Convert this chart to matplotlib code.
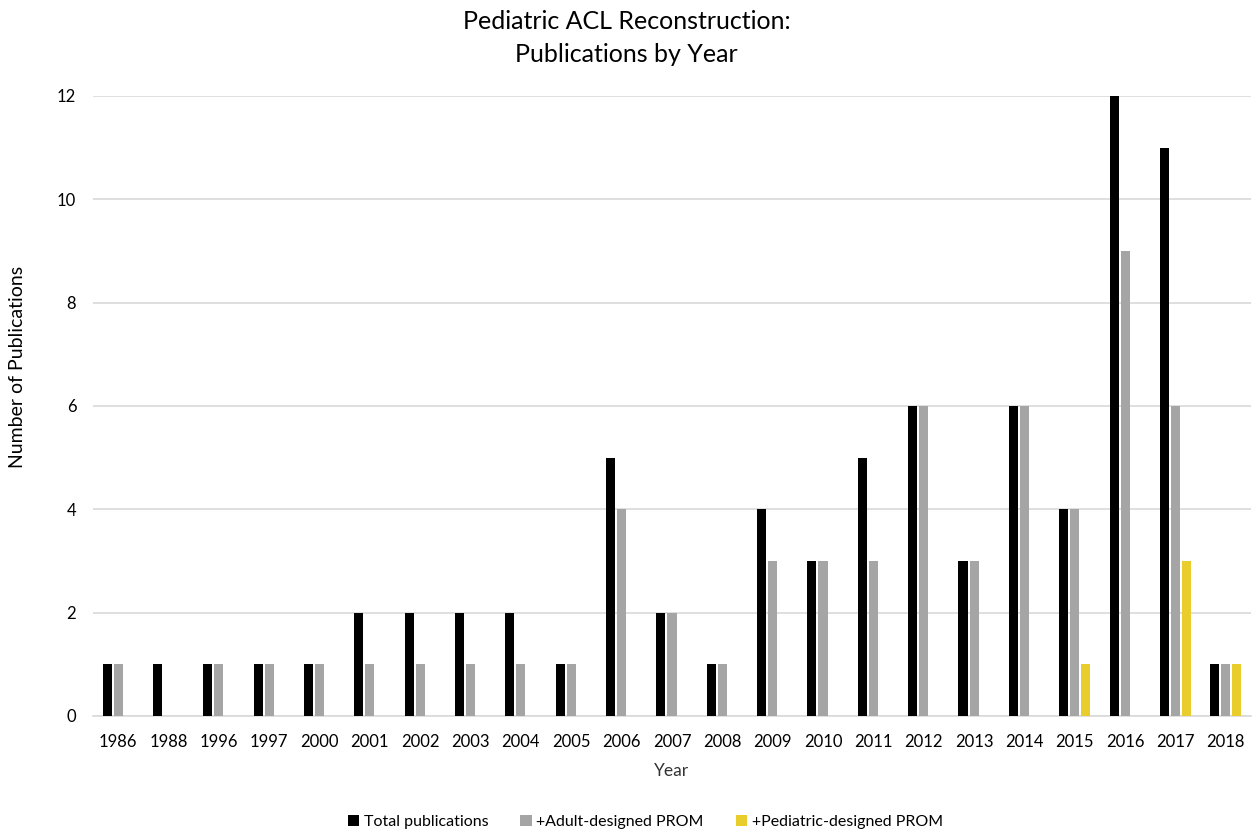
import matplotlib
matplotlib.use("Agg")
import matplotlib.pyplot as plt
import numpy as np

years = ["1986", "1988", "1996", "1997", "2000", "2001", "2002", "2003", "2004", "2005",
         "2006", "2007", "2008", "2009", "2010", "2011", "2012", "2013", "2014", "2015",
         "2016", "2017", "2018"]
total = [1, 1, 1, 1, 1, 2, 2, 2, 2, 1, 5, 2, 1, 4, 3, 5, 6, 3, 6, 4, 12, 11, 1]
adult = [1, 0, 1, 1, 1, 1, 1, 1, 1, 1, 4, 2, 1, 3, 3, 3, 6, 3, 6, 4, 9, 6, 1]
pediatric = [0, 0, 0, 0, 0, 0, 0, 0, 0, 0, 0, 0, 0, 0, 0, 0, 0, 0, 0, 1, 0, 3, 1]

plt.rcParams['font.family'] = ['Lato', 'DejaVu Sans']

fig = plt.figure(figsize=(12.53, 8.34), dpi=100)
ax = fig.add_axes([0.0742, 0.1415, 0.9242, 0.7435])

x = np.arange(len(years))
w = 0.18
off = 0.22
ax.bar(x - off, total, width=w, color="#000000", label="Total publications", zorder=3)
ax.bar(x, adult, width=w, color="#a5a5a5", label="+Adult-designed PROM", zorder=3)
ax.bar(x + off, pediatric, width=w, color="#e8cd2c", label="+Pediatric-designed PROM", zorder=3)

ax.set_xlim(-0.5, len(years) - 0.5)
ax.set_ylim(0, 12)
ax.set_yticks(range(0, 13, 2))
ax.set_xticks(x)
ax.set_xticklabels(years)
ax.grid(axis="y", color="#d9d9d9", linewidth=1.2, zorder=0)
for s in ["top", "right", "left"]:
    ax.spines[s].set_visible(False)
ax.spines["bottom"].set_color("#d9d9d9")
ax.spines["bottom"].set_linewidth(1.2)
ax.tick_params(axis="both", length=0, labelsize=12, colors="#000000")
ax.tick_params(axis="x", pad=13)
ax.tick_params(axis="y", pad=12)

ax.set_xlabel("Year", fontsize=12.5, labelpad=9, color="#333333")
ax.set_ylabel("Number of Publications", fontsize=14)
ax.yaxis.set_label_coords(-0.058, 0.563)
fig.text(0.5, 0.988, "Pediatric ACL Reconstruction:\nPublications by Year", ha="center", va="top",
         fontsize=18, linespacing=1.55)

leg = fig.legend(loc="lower center", bbox_to_anchor=(0.515, -0.011), ncol=3, frameon=False,
                 fontsize=11.5, handlelength=0.7, handleheight=0.7, handletextpad=0.3,
                 columnspacing=2.0)

fig.savefig("out.png", dpi=100)
